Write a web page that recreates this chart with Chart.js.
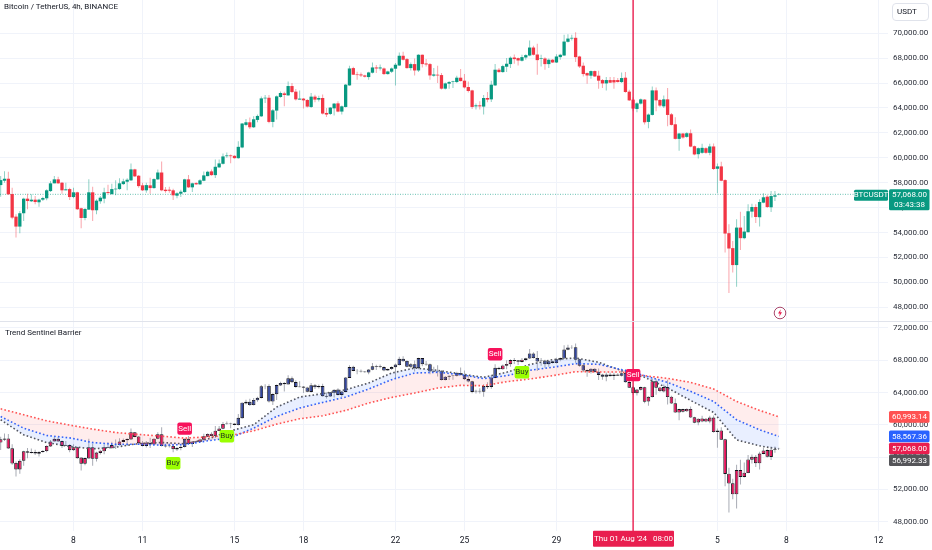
<!DOCTYPE html>
<html><head><meta charset="utf-8">
<script src="https://cdn.jsdelivr.net/npm/chart.js@4"></script>
<style>
html,body{margin:0;padding:0;background:#fff;width:932px;height:550px;overflow:hidden}
#wrap{position:relative;width:932px;height:550px;font-family:Roboto,sans-serif;color:#131722}
canvas{position:absolute;left:0}
.t{position:absolute;white-space:pre;font-size:8px;line-height:10px}
</style></head><body>
<div id="wrap">
<canvas id="top" width="932" height="321" style="top:0"></canvas>
<div style="position:absolute;left:0;top:321px;width:932px;height:1px;background:#e0e3eb"></div>
<canvas id="bot" width="932" height="228" style="top:322px"></canvas>
<div class="t" id="title" style="left:4px;top:2px"></div>
<div class="t" id="ind" style="left:5px;top:328px"></div>
<div style="position:absolute;left:892px;top:3px;width:37px;height:18px;border:1px solid #e0e3eb;border-radius:4px;box-sizing:border-box"></div>
<div class="t" id="cur" style="left:897px;top:7px"></div>
<svg style="position:absolute;left:772px;top:305px" width="16" height="16" viewBox="0 0 16 16"><circle cx="8" cy="8" r="5.8" fill="#fff" stroke="#a8476a" stroke-width="1"/><path d="M8.8 4.3 L6 8.6 H7.8 L7.2 11.7 L10 7.3 H8.2 Z" fill="#e91e4f"/></svg>
</div>
<script>
const titleText = "Bitcoin / TetherUS, 4h, BINANCE";
const indicatorName = "Trend Sentinel Barrier";
const currency = "USDT";
const symbol = "BTCUSDT";
const countdown = "03:43:38";
const cursorIndex = 165;
const cursorLabel = "Thu 01 Aug '24   08:00";

const dayIndex = [19,37,61,79,103,121,145,187,205,229];
const dayLabels = ["8","11","15","18","22","25","29","5","8","12"];
const topPriceTicks = [48000,50000,52000,54000,56000,58000,60000,62000,64000,66000,68000,70000];
const lowerPriceTicks = [48000,52000,56000,60000,64000,68000,72000];

const opens = [57810,58160,58320,57090,55280,54480,55550,56720,56510,56640,56430,56640,56750,57330,57950,58270,58000,57390,57490,56850,
57230,55950,55170,55840,57230,55790,56510,56720,57250,57090,57470,57490,57890,58080,58190,59070,58560,57790,57390,57790,
57570,58270,58820,57440,57440,57390,56960,57120,57250,58270,57630,57970,57870,58160,58530,58910,58610,59230,59520,60130,
60190,60160,59970,60830,62640,62850,62450,63040,63330,64770,64820,62880,63790,64880,65170,65010,65760,65310,64670,64750,
64640,64080,64910,64670,64800,63600,63520,63970,64370,63710,64080,65810,67200,66690,66690,66610,66480,66830,67250,67170,
67170,66720,66910,67150,67410,68190,67920,67200,67520,67010,68270,67570,67520,66590,66670,66640,65550,65950,66080,66080,
66430,66190,65680,65410,64130,64210,64110,64800,64690,65810,67070,66880,67310,67520,68050,68000,67790,68050,68210,68850,
68290,67950,67970,67520,67870,67650,68080,68210,69310,69570,69630,68130,67390,66800,66590,66960,66590,66240,65970,66240,
66240,66240,66080,66430,65310,64670,63920,64350,64670,62880,63440,65410,64640,64130,64690,63490,62690,61520,61950,61680,
61970,60930,60290,60400,60770,60400,60910,59120,59310,58210,53950,52750,51390,54400,53550,54030,55680,56050,55230,56400,
56880,56030,56880,57040];
const highs = [58530,58930,58880,57600,55470,55730,56800,57120,57070,56930,56720,56880,57470,58130,58530,58480,58050,58000,57600,57600,
57280,56000,55970,58270,57680,56670,56930,57600,57840,57920,58190,58350,58320,58350,59550,59120,58610,58000,58000,58400,
58350,59070,59710,57650,57680,57520,57230,57440,58320,58610,58000,58030,58270,58910,58960,59070,59870,59870,60350,60430,
60270,60210,61330,62800,63120,63230,63330,63470,64930,65040,65040,63920,65010,65330,65310,66130,66000,65520,65410,64800,
64720,65200,65070,64990,65090,64000,64080,64400,64530,64190,65920,67390,67310,66910,66850,66670,66910,67650,67440,67490,
67250,66990,67250,67600,68450,68510,68000,67650,67970,68320,68290,67920,67600,67200,67390,66800,66050,66160,66190,66590,
67120,66720,66130,65470,64350,64530,65040,65280,66190,67520,67200,67470,68000,68130,68290,68050,68270,68320,69410,68990,
69150,68270,68080,67970,67920,68320,68350,69870,69920,69870,70080,68190,67650,66850,67010,67010,66990,66320,66480,66480,
66480,66400,66850,66880,65470,64850,64450,64750,64720,63550,65730,65650,64720,65010,65600,63600,63250,62000,62000,62050,
62270,60990,60830,61120,60850,61120,61150,59550,59690,58270,54670,53330,55070,55680,55330,56270,56320,56270,56670,57150,
56990,57330,57330,57170];
const lows = [56880,58000,57010,55070,53600,53950,54930,55870,56450,56270,56080,56530,56590,57250,57950,57920,57120,57390,56610,56750,
55810,54350,54980,55810,54930,55470,56320,56350,57120,57040,57000,57440,57810,57390,58130,58450,57600,57330,57200,57120,
57520,58210,57310,57200,57200,56610,56750,56860,57200,57570,57250,57810,57810,58110,58510,58560,58370,59200,59470,60000,
59570,59950,59920,60770,62530,62320,62400,62850,63280,64400,62770,62450,63070,64820,64130,64990,65200,64590,64670,63950,
64030,64000,64450,64510,63470,63280,63440,63390,63650,63470,64030,65790,66640,66270,66480,66450,66270,66770,66800,67010,
66640,66670,66800,65810,67360,67810,67150,67010,66610,66880,67250,67330,66270,66510,66000,65490,65490,65550,65600,66000,
66130,65570,65250,63920,63870,63870,63470,64450,64480,65760,66830,66830,66880,67200,67550,67410,67730,67870,68160,68210,
66670,67330,67070,67200,67600,67600,67870,68190,69250,69410,67680,67200,66530,65950,66350,66480,65550,65600,65410,66000,
65550,66050,66000,65230,64560,63730,63650,64270,62670,62370,63390,63730,64080,64000,62530,62590,61470,60560,61520,61600,
60850,60210,59950,60320,60320,60210,59020,57150,58110,52400,49150,50790,49650,52610,53470,54000,55200,54770,54480,56350,
55970,55650,56530,56990];
const closes = [58210,58320,57070,55200,54480,55550,56720,56530,56640,56450,56640,56770,57390,57950,58270,57950,57390,57470,56850,57230,
55870,55170,55890,57230,55790,56560,56800,57230,57170,57490,57520,57950,58110,58240,59070,58510,57730,57390,57810,57570,
58290,58820,57390,57330,57360,56990,57150,57280,58270,57630,57950,57870,58190,58590,58880,58610,59280,59550,60110,60190,
60130,59970,60880,62750,62850,62450,63090,63360,64770,64820,62880,63810,64930,65200,65040,65760,65280,64690,64750,64610,
64110,64910,64670,64800,63550,63470,64030,64350,63710,64130,65870,67170,66670,66640,66610,66510,66850,67250,67170,67250,
66720,66930,67170,67470,68190,67870,67200,67520,67010,68270,67520,67490,66610,66690,66610,65550,65970,66080,66130,66430,
66160,65650,65360,64080,64210,64130,64800,64670,65870,67070,66880,67360,67550,68030,67920,67810,68080,68240,68850,68270,
67840,68000,67520,67870,67650,68130,68270,69330,69570,69630,68080,67330,66720,66610,66960,66530,66190,65970,66240,66030,
66050,66080,66400,65280,64610,63950,64370,64690,62850,63470,65410,64610,64190,64690,63440,62640,61520,61950,61630,61970,
60900,60270,60770,60800,60400,60910,59100,59310,58160,53920,52720,51390,54400,53550,54080,55710,56050,55250,56450,56830,
56050,56930,56990,57068];

const bandIndex = [0,6,12,18,24,30,36,42,48,54,60,66,72,78,84,90,96,102,108,114,120,126,132,138,144,150,156,162,168,174,180,186,192,198,203];
const redBand = [61990,61250,60500,59970,59470,59050,58810,58600,58350,58520,58680,59260,60090,60750,61120,61790,62700,63400,63940,64560,64890,64850,65350,65680,66090,66590,66550,66550,66090,65760,65260,64440,62900,61790,60993.14];
const blueBand = [61040,59590,58680,58390,57810,57600,57600,57480,57560,58020,58390,59590,61040,62080,62780,63440,64440,65600,66420,66510,66220,65720,66090,66750,67130,67580,67500,66840,66090,65260,64150,62900,60630,59390,58567.36];
const greyBand = [60630,58760,57810,57320,57030,57230,57690,57810,57650,58230,59260,60010,62200,63440,63860,64350,65180,66420,67040,66750,66300,65890,66510,67460,68080,68290,67750,66710,65890,64560,63030,61540,58140,57400,56992.33];

// bars painted in the indicator's bearish colour in the lower pane
const bearRanges = [[0,47],[49,61],[131,137],[164,203]];

const signalText = ["Sell","Buy","Buy","Sell","Buy","Sell"];
const signalIndex = [48,45,59,129,136,165];
const signalPrice = [59560,55270,58620,68780,66550,66180];

const lastPrice = 57068;
const priceLines = [60993.14,58567.36,57068,56992.33];
const priceLineColors = ["#ff5252","#2962ff","#e91e4f","#555559"];

const UP="#089981",DOWN="#f23645",UPW="rgba(8,153,129,.45)",DOWNW="rgba(242,54,69,.45)",CROSS="#e91e4f",GRID="#f0f3fa";
const FONT="Roboto, sans-serif";
document.getElementById('title').textContent=titleText;
document.getElementById('ind').textContent=indicatorName;
document.getElementById('cur').textContent=currency;

const XMIN=-0.175,XMAX=231.5;
const fmt=v=>Number(v).toLocaleString('en-US',{minimumFractionDigits:2,maximumFractionDigits:2});
const isUp=opens.map((o,i)=>closes[i]>=o);
const isBear=i=>bearRanges.some(r=>i>=r[0]&&i<=r[1]);
const wickData=opens.map((o,i)=>({x:i,y:[lows[i],highs[i]]}));
const bodyData=opens.map((o,i)=>({x:i,y:[o,closes[i]]}));
const knots=a=>a.map((v,i)=>({x:bandIndex[i],y:v}));

function xScale(showLabels){
  return {type:'linear',min:XMIN,max:XMAX,offset:false,
    afterBuildTicks(s){s.ticks=dayIndex.map(v=>({value:v}));},
    afterFit(s){s.height=showLabels?19:0;s.paddingLeft=0;s.paddingRight=0;},
    grid:{color:GRID,drawTicks:false,offset:false},border:{display:false},
    ticks:{display:showLabels,autoSkip:false,maxRotation:0,padding:5,color:'#131722',font:{family:FONT,size:8.5},
      callback:v=>dayLabels[dayIndex.indexOf(v)]}};
}
function yScale(min,max,tickValues){
  return {type:'linear',position:'right',min,max,
    afterBuildTicks(s){s.ticks=tickValues.map(v=>({value:v}));},
    afterFit(s){s.width=44;s.paddingTop=0;s.paddingBottom=0;},
    grid:{color:GRID,drawTicks:false},border:{display:false},
    ticks:{autoSkip:false,padding:5,color:'#2a2e39',font:{family:FONT,size:8},callback:fmt}};
}
function box(ctx,x,y,w,h,c,r){ctx.fillStyle=c;ctx.beginPath();ctx.roundRect(x,y,w,h,r||1.5);ctx.fill();}
function txt(ctx,s,x,y,c,al,size){ctx.fillStyle=c;ctx.font=(size||8)+'px '+FONT;ctx.textAlign=al||'center';ctx.textBaseline='middle';ctx.fillText(s,x,y);}
const base={responsive:false,animation:false,devicePixelRatio:1,layout:{padding:0},
  plugins:{legend:{display:false},tooltip:{enabled:false}}};

new Chart(document.getElementById('top'),{
  type:'bar',
  data:{datasets:[
    {type:'line',data:[{x:XMIN,y:lastPrice},{x:XMAX,y:lastPrice}],borderColor:'rgba(8,153,129,.6)',borderWidth:1,borderDash:[1,1.5],pointRadius:0,order:5},
    {data:wickData,backgroundColor:isUp.map(u=>u?UPW:DOWNW),barThickness:1,grouped:false,borderWidth:0,inflateAmount:0,order:3},
    {data:bodyData,backgroundColor:isUp.map(u=>u?UP:DOWN),barThickness:3.3,grouped:false,borderWidth:0,inflateAmount:0,order:2}
  ]},
  options:{...base,scales:{x:xScale(false),y:yScale(46902,72665,topPriceTicks)}},
  plugins:[{id:'overlay',afterDatasetsDraw(c){
    const ctx=c.ctx,xp=c.scales.x.getPixelForValue(cursorIndex),yp=c.scales.y.getPixelForValue(lastPrice);
    ctx.save();
    ctx.fillStyle=CROSS;ctx.fillRect(xp-0.7,0,1.4,321);
    box(ctx,854,yp-4.5,34,11,UP);txt(ctx,symbol,871,yp+1,'#fff');
    box(ctx,889,yp-5,40.5,21,UP);
    txt(ctx,fmt(lastPrice),909.5,yp+0.5,'#fff');txt(ctx,countdown,909.5,yp+10.5,'#fff');
    ctx.restore();
  }}]
});

new Chart(document.getElementById('bot'),{
  type:'bar',
  data:{datasets:[
    {type:'line',data:knots(redBand),borderColor:'#ff5252',borderWidth:1.6,borderDash:[1.6,2.23],pointRadius:0,order:1,
      fill:{target:1,above:'rgba(255,82,82,.1)',below:'rgba(255,82,82,.1)'}},
    {type:'line',data:knots(blueBand),borderColor:'#2962ff',borderWidth:1.6,borderDash:[1.6,2.23],pointRadius:0,order:1,
      fill:{target:2,above:'rgba(41,98,255,.1)',below:'rgba(41,98,255,.1)'}},
    {type:'line',data:knots(greyBand),borderColor:'#555559',borderWidth:1.6,borderDash:[1.6,2.23],pointRadius:0,order:1,fill:false},
    {data:wickData,backgroundColor:'#a8abb4',barThickness:1,grouped:false,borderWidth:0,inflateAmount:0,order:3},
    {data:bodyData,backgroundColor:opens.map((o,i)=>isBear(i)?'#e8115a':'#32459f'),borderColor:'#14141c',borderWidth:0.9,borderSkipped:false,barThickness:3.6,grouped:false,inflateAmount:0,order:2}
  ]},
  options:{...base,scales:{x:xScale(true),y:yScale(46848,72743,lowerPriceTicks)}},
  plugins:[{id:'overlay',afterDatasetsDraw(c){
    const ctx=c.ctx,sx=c.scales.x,sy=c.scales.y,xp=sx.getPixelForValue(cursorIndex);
    ctx.save();
    ctx.fillStyle=CROSS;ctx.fillRect(xp-0.7,0,1.4,209);
    signalText.forEach((s,i)=>{
      const x=sx.getPixelForValue(signalIndex[i]),y=sy.getPixelForValue(signalPrice[i]),sell=s==='Sell';
      box(ctx,x-7.3,y-6,14.6,12.4,sell?'#f7125b':'#9aff00',2);
      txt(ctx,s,x,y+0.3,sell?'#fff':'#2a3a20');
    });
    box(ctx,593,208.7,81,16,CROSS,1);
    txt(ctx,cursorLabel,633.5,217,'#fff');
    let prev=-99;
    priceLines.forEach((p,i)=>{
      const y=Math.max(sy.getPixelForValue(p),prev+11.7);prev=y;
      box(ctx,889,y-5.8,40.5,11.6,priceLineColors[i]);
      txt(ctx,fmt(p),909.5,y+0.3,'#fff');
    });
    ctx.restore();
  }}]
});
</script>
</body></html>
